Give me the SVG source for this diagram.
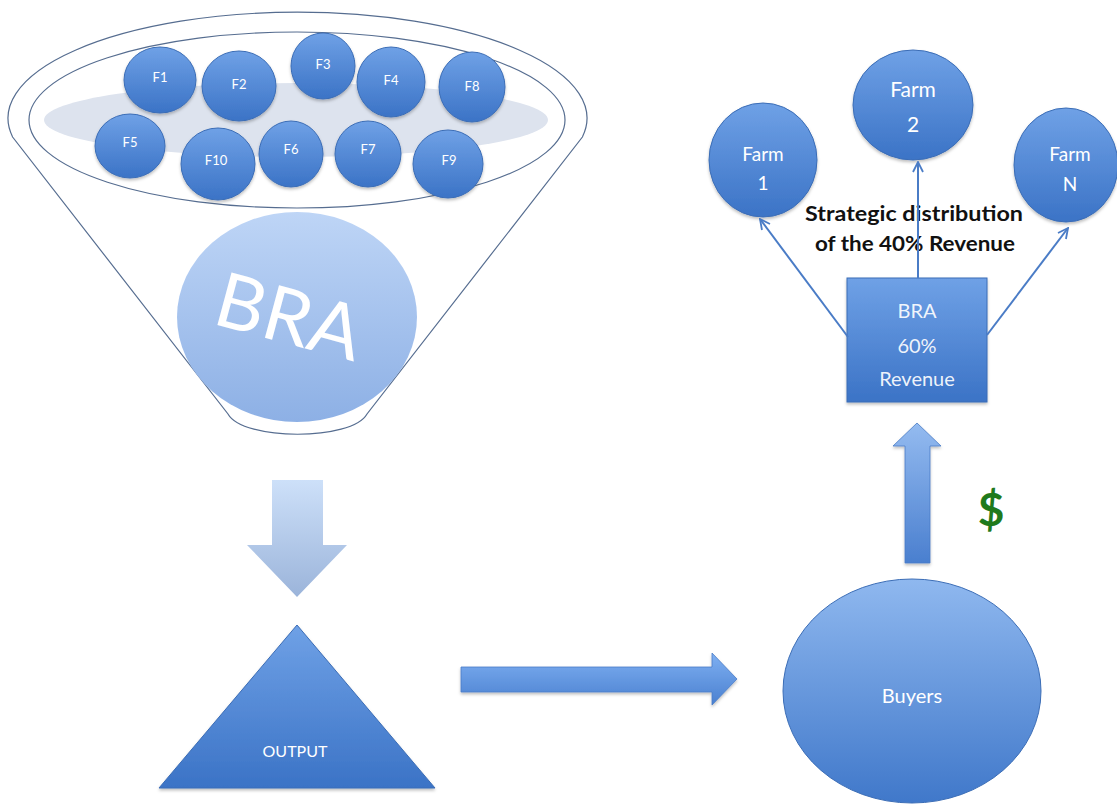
<svg xmlns="http://www.w3.org/2000/svg" width="1117" height="804" viewBox="0 0 1117 804">
<defs>
<linearGradient id="gBlue" x1="0" y1="0" x2="0" y2="1">
<stop offset="0" stop-color="#6fa1e6"/>
<stop offset="1" stop-color="#3b73c6"/>
</linearGradient>
<linearGradient id="gBuyers" x1="0" y1="0" x2="0" y2="1">
<stop offset="0" stop-color="#8fb8ef"/>
<stop offset="1" stop-color="#4078ca"/>
</linearGradient>
<linearGradient id="gBra" x1="0" y1="0" x2="0" y2="1">
<stop offset="0" stop-color="#bed5f6"/>
<stop offset="1" stop-color="#8db0e5"/>
</linearGradient>
<linearGradient id="gDown" x1="0" y1="0" x2="0" y2="1">
<stop offset="0" stop-color="#cde0f9"/>
<stop offset="1" stop-color="#9bb4da"/>
</linearGradient>
<linearGradient id="gHoriz" x1="0" y1="0" x2="0" y2="1">
<stop offset="0" stop-color="#7fb0f2"/>
<stop offset="1" stop-color="#4a80d0"/>
</linearGradient>
<linearGradient id="gUp" x1="0" y1="0" x2="0" y2="1">
<stop offset="0" stop-color="#94bbf0"/>
<stop offset="1" stop-color="#4a7fcf"/>
</linearGradient>
<filter id="sh" x="-20%" y="-20%" width="140%" height="140%">
<feDropShadow dx="0" dy="2" stdDeviation="1.5" flood-color="#000" flood-opacity="0.25"/>
</filter>
<marker id="open" viewBox="0 0 12 12" refX="11" refY="6" markerWidth="12" markerHeight="12" markerUnits="userSpaceOnUse" orient="auto">
<path d="M1,1 L11,6 L1,11" fill="none" stroke="#4a7cc6" stroke-width="1.8"/>
</marker>
<style>
.fun{fill:none;stroke:#566d90;stroke-width:1.2}
.fc{fill:url(#gBlue);stroke:#3b6db6;stroke-width:1;filter:url(#sh)}
.fl{font-family:Lato,"Liberation Sans",sans-serif;font-size:13px;fill:#ffffff;text-anchor:middle;dominant-baseline:central}
.wt{font-family:Lato,"Liberation Sans",sans-serif;fill:#ffffff;text-anchor:middle;dominant-baseline:central}
.con{fill:none;stroke:#4a7cc6;stroke-width:2;marker-end:url(#open)}
.blk{font-family:Lato,"Liberation Sans",sans-serif;font-weight:bold;font-size:20px;fill:#111111;text-anchor:middle;dominant-baseline:central}
</style>
</defs>
<rect width="1117" height="804" fill="#ffffff"/>

<g id="funnel">
<path class="fun" d="M12.6,137 A289.5,106 0 1 1 582.4,137 L367,414 C352,441 243,441 228,414 Z"/>
<ellipse class="fun" cx="297" cy="120" rx="268" ry="88"/>
<ellipse cx="296" cy="120" rx="252" ry="37" fill="#dde3ee"/>
</g>

<g id="bra-circle">
<ellipse cx="297" cy="317" rx="120" ry="105" fill="url(#gBra)"/>
<text class="wt" x="290" y="314" font-size="76" transform="rotate(15 290 314)">BRA</text>
</g>

<g id="F1"><ellipse class="fc" cx="160" cy="80" rx="36" ry="33"/><text class="fl" x="160" y="77">F1</text></g>
<g id="F2"><ellipse class="fc" cx="239" cy="86" rx="37" ry="35"/><text class="fl" x="239" y="84">F2</text></g>
<g id="F3"><ellipse class="fc" cx="323" cy="66" rx="32" ry="33"/><text class="fl" x="323" y="64">F3</text></g>
<g id="F4"><ellipse class="fc" cx="391" cy="82" rx="34" ry="35"/><text class="fl" x="391" y="80">F4</text></g>
<g id="F8"><ellipse class="fc" cx="472" cy="87" rx="33" ry="35"/><text class="fl" x="472" y="86">F8</text></g>
<g id="F5"><ellipse class="fc" cx="130" cy="146" rx="35" ry="32"/><text class="fl" x="130" y="142">F5</text></g>
<g id="F10"><ellipse class="fc" cx="218" cy="164" rx="37" ry="36"/><text class="fl" x="216" y="160">F10</text></g>
<g id="F6"><ellipse class="fc" cx="291" cy="154" rx="32" ry="33"/><text class="fl" x="291" y="149">F6</text></g>
<g id="F7"><ellipse class="fc" cx="368" cy="154" rx="33" ry="33"/><text class="fl" x="368" y="149">F7</text></g>
<g id="F9"><ellipse class="fc" cx="448" cy="164" rx="35" ry="34"/><text class="fl" x="449" y="160">F9</text></g>

<g id="down-arrow">
<polygon points="272,480 323,480 323,545 347,545 297,597 247,545 272,545" fill="url(#gDown)"/>
</g>

<g id="output">
<polygon points="297,625 435,788 159,788" fill="url(#gBlue)" stroke="#3b6db6" stroke-width="1" filter="url(#sh)"/>
<text class="wt" x="295" y="750" font-size="16">OUTPUT</text>
</g>

<g id="right-arrow">
<polygon points="461,667 712,667 712,653 737,679 712,705 712,692 461,692" fill="url(#gHoriz)" stroke="#4a7cc6" stroke-width="0.8" filter="url(#sh)"/>
</g>

<g id="buyers">
<ellipse cx="912" cy="691" rx="129" ry="112" fill="url(#gBuyers)" stroke="#3b6db6" stroke-width="1"/>
<text class="wt" x="912" y="695" font-size="20">Buyers</text>
</g>

<g id="up-arrow">
<polygon points="917,423 941,446 930,446 930,563 905,563 905,446 893,446" fill="url(#gUp)" stroke="#4a7cc6" stroke-width="0.8" filter="url(#sh)"/>
</g>

<g id="dollar">
<text x="991" y="526" font-family="Lato,'Liberation Sans',sans-serif" font-size="46" font-weight="bold" fill="#1f7a1c" text-anchor="middle">$</text>
</g>

<g id="bra-box">
<rect x="847" y="278" width="140" height="124" fill="url(#gBlue)" stroke="#3b6db6" stroke-width="1" filter="url(#sh)"/>
<text class="wt" x="917" y="310" font-size="20" fill-opacity="0.92">BRA</text>
<text class="wt" x="917" y="345" font-size="20" fill-opacity="0.92">60%</text>
<text class="wt" x="917" y="378" font-size="20" fill-opacity="0.92">Revenue</text>
</g>

<g id="farm1">
<ellipse class="fc" cx="763" cy="160" rx="54" ry="57"/>
<text class="wt" x="763" y="153" font-size="19">Farm</text>
<text class="wt" x="763" y="182" font-size="19">1</text>
</g>
<g id="farm2">
<ellipse class="fc" cx="913" cy="105" rx="60" ry="55"/>
<text class="wt" x="913" y="88" font-size="21">Farm</text>
<text class="wt" x="913" y="123" font-size="21">2</text>
</g>
<g id="farmN">
<ellipse class="fc" cx="1066" cy="165" rx="52" ry="57"/>
<text class="wt" x="1070" y="153" font-size="19">Farm</text>
<text class="wt" x="1070" y="183" font-size="19">N</text>
</g>

<g id="label-strategic">
<text class="blk" x="914" y="213" textLength="218" lengthAdjust="spacingAndGlyphs">Strategic distribution</text>
<text class="blk" x="915" y="243" textLength="200" lengthAdjust="spacingAndGlyphs">of the 40% Revenue</text>
</g>

<g id="connectors">
<line class="con" x1="848" y1="337" x2="760" y2="219"/>
<line class="con" x1="918" y1="278" x2="918" y2="162"/>
<line class="con" x1="987" y1="335" x2="1068" y2="228"/>
</g>
</svg>
